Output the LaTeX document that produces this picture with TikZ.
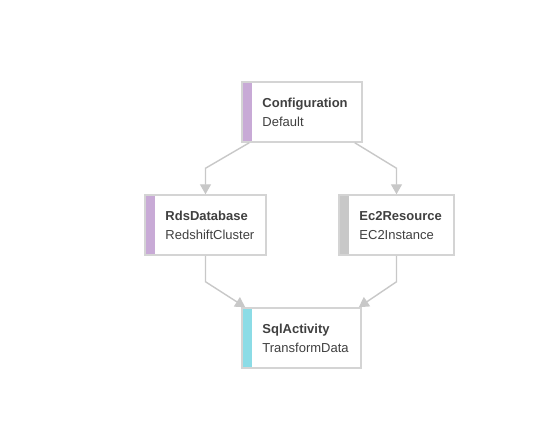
\documentclass[tikz,border=0pt]{standalone}
\usepackage{fontspec}
\setmainfont{Liberation Sans}
\usetikzlibrary{arrows.meta}
\usetikzlibrary{positioning}
\definecolor{ln}{RGB}{200,200,200}
\definecolor{bd}{RGB}{212,212,212}
\definecolor{tx}{RGB}{64,64,64}
\definecolor{purplebar}{RGB}{200,170,214}
\definecolor{graybar}{RGB}{200,200,200}
\definecolor{cyanbar}{RGB}{140,220,230}

\begin{document}
\begin{tikzpicture} [
    x=1pt, y=-1pt,
    b/.style={
        draw=bd, fill=white, line width=1.5pt,
        minimum height=60pt,
        path picture={\fill [#1] (path picture bounding box.south west)
            rectangle ([xshift=10pt]path picture bounding box.north west);}
    },
    t/.style={
        font=\fontsize{13}{19}\selectfont, text=tx,
        align=left, inner sep=0pt, anchor=base west
    },
    c/.style={
        draw=ln, line width=1.4pt,
        -{Triangle[length=10pt,width=11pt]}
    }
]

\useasboundingbox [fill=white] (0,0) rectangle (559,442);

\node [b=purplebar,minimum width=120pt] (cfg) at (302,112)   {};
\node [b=purplebar,minimum width=121pt] (rds) at (205.5,225) {};
\node [b=graybar,minimum width=115pt]   (ec2) at (396.5,225) {};
\node [b=cyanbar,minimum width=119pt]   (sql) at (301.5,338) {};

% base of an aligned node sits on its last line
\node [t] (cfg-t) at ([shift={(21pt,-14pt)}]cfg.west) {\textbf{Configuration}\\Default};
\node [t] (rds-t) at ([shift={(21pt,-14pt)}]rds.west) {\textbf{RdsDatabase}\\RedshiftCluster};
\node [t] (ec2-t) at ([shift={(21pt,-14pt)}]ec2.west) {\textbf{Ec2Resource}\\EC2Instance};
\node [t] (sql-t) at ([shift={(21pt,-14pt)}]sql.west) {\textbf{SqlActivity}\\TransformData};

\draw [c] ([xshift=8pt]cfg.south west) -- ([yshift=26pt]rds.north) -- (rds.north);
\draw [c] ([xshift=-8pt]cfg.south east) -- ([yshift=26pt]ec2.north) -- (ec2.north);
\draw [c] (rds.south) -- ([yshift=-26pt]rds.south) -- ([xshift=4pt]sql.north west);
\draw [c] (ec2.south) -- ([yshift=-26pt]ec2.south) -- ([xshift=-3pt]sql.north east);

\end{tikzpicture}
\end{document}
